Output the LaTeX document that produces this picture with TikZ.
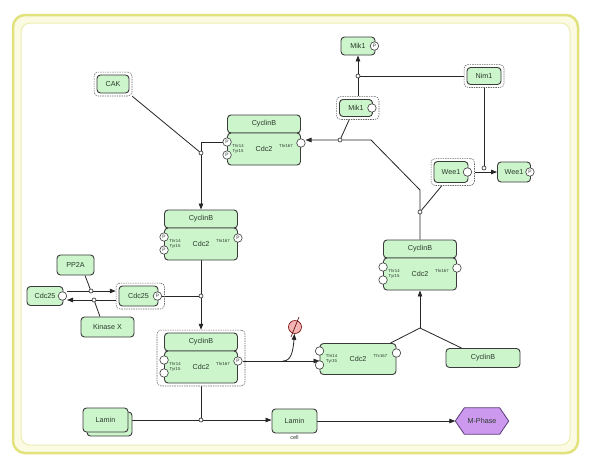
\documentclass[tikz,border=0pt]{standalone}
\usepackage{fontspec}
\setmainfont{Liberation Sans}
\usetikzlibrary{arrows.meta,calc,fit}
\pgfdeclarelayer{back}
\pgfdeclarelayer{bg}
\pgfsetlayers{back,bg,main}
\definecolor{spfill}{HTML}{CCF5CC}
\definecolor{spdraw}{HTML}{3A3A3A}
\definecolor{txt}{HTML}{2A3A2A}
\definecolor{frameY}{HTML}{E2E27C}
\definecolor{bandY}{HTML}{FBFBE4}
\definecolor{innerY}{HTML}{EDEDB0}
\definecolor{hexfill}{HTML}{CC99EE}
\definecolor{hexdraw}{HTML}{5A3A7A}
\definecolor{degfill}{HTML}{F4B4B4}
\newcommand\mkcplx[6]{%
  \node[cycb] (#1y) at (#2,{#3+9}) {CyclinB};
  \node[cdcb] (#1c) at (#2,{#3+34}) {Cdc2};
  \node[svar] (#1a) at ($(#1c.west)+(0,-7)$) {#4};
  \node[svar] (#1b) at ($(#1c.west)+(0,6)$) {#5};
  \node[svar] (#1r) at ($(#1c.east)+(0,-6)$) {#6};
  \node[smalllbl] (#1ta) at ($(#1c.west)+(11,-3)$) {Thr14};
  \node[smalllbl] (#1tb) at ($(#1c.west)+(11,2)$) {Tyr15};
  \node[smalllbl] (#1tc) at ($(#1c.east)+(-15,-3)$) {Thr167};
}
\begin{document}
\begin{tikzpicture}[x=1pt,y=-1pt,
  sp/.style={draw=spdraw, fill=spfill, line width=0.9pt, rounded corners=3.5pt, inner sep=0pt, text=txt, font=\fontsize{7.2}{8}\selectfont},
  cycb/.style={sp, minimum width=73pt, minimum height=18pt},
  cdcb/.style={sp, minimum width=73pt, minimum height=32pt},
  svar/.style={circle, draw=spdraw, fill=white, line width=0.6pt, inner sep=0pt, minimum size=8.5pt, font=\fontsize{4.8}{5}\selectfont, text=txt},
  smalllbl/.style={inner sep=0pt, text=txt, font=\fontsize{4.3}{4.8}\selectfont},
  dbox/.style={draw=black!60, dash pattern=on 1.4pt off 1pt, line width=0.6pt, rounded corners=4pt, inner sep=2.5pt},
  ln/.style={draw=black!85, line width=0.8pt},
  arr/.style={ln, -{Triangle[length=6pt,width=4.5pt]}},
  mp/.style={circle, draw=black!85, fill=white, line width=0.6pt, inner sep=0pt, minimum size=4pt}
]
\useasboundingbox (0,0) rectangle (589,467);
\begin{pgfonlayer}{back}
\fill[white] (0,0) rectangle (589,467);
\draw[frameY, line width=2.5pt, fill=bandY, rounded corners=12pt] (13,15) rectangle (578,453);
\draw[innerY, line width=1pt, fill=white, rounded corners=9pt] (21,23) rectangle (570,445);
\end{pgfonlayer}

% simple species
\node[sp, minimum width=34pt, minimum height=18pt] (mik1p) at (358,46) {Mik1\hspace{6pt}};
\node[svar] (mik1pR) at ($(mik1p.east)+(-1,0)$) {P};
\node[sp, minimum width=34pt, minimum height=17pt] (nim1) at (484,76) {Nim1};
\node[dbox, fit=(nim1)] (nim1D) {};
\node[sp, minimum width=33pt, minimum height=17pt] (mik1m) at (356,108) {Mik1\hspace{6pt}};
\node[svar] (mik1mR) at ($(mik1m.east)+(-1,0)$) {};
\node[dbox, fit=(mik1m)(mik1mR)] (mik1mD) {};
\node[sp, minimum width=32pt, minimum height=18pt] (cak) at (113,84) {CAK};
\node[dbox, fit=(cak)] (cakD) {};
\node[sp, minimum width=34pt, minimum height=21pt] (wee1m) at (451,172) {Wee1\hspace{6pt}};
\node[svar] (wee1mR) at ($(wee1m.east)+(-1,0)$) {};
\node[dbox, fit=(wee1m)(wee1mR)] (wee1mD) {};
\node[sp, minimum width=33pt, minimum height=20pt] (wee1p) at (514,172) {Wee1\hspace{6pt}};
\node[svar] (wee1pR) at ($(wee1p.east)+(-1,0)$) {P};
\node[sp, minimum width=37pt, minimum height=20pt] (pp2a) at (75.5,265) {PP2A};
\node[sp, minimum width=36pt, minimum height=19pt] (cdc25) at (45,296) {Cdc25\hspace{6pt}};
\node[svar] (cdc25R) at ($(cdc25.east)+(-1,0)$) {};
\node[sp, minimum width=39pt, minimum height=20pt] (cdc25p) at (138.5,296) {Cdc25\hspace{6pt}};
\node[svar] (cdc25pR) at ($(cdc25p.east)+(-1,0)$) {P};
\node[dbox, fit=(cdc25p)(cdc25pR)] (cdc25pD) {};
\node[sp, minimum width=53pt, minimum height=20pt] (kinx) at (107.5,327) {Kinase X};

% Lamin
\node[sp, minimum width=45pt, minimum height=24pt] (lamin1b) at (109.5,424) {};
\node[sp, minimum width=45pt, minimum height=24pt] (lamin1) at (105.5,420) {Lamin};
\node[sp, minimum width=45pt, minimum height=24pt] (lamin2) at (294.5,421) {Lamin};
\node[smalllbl, font=\fontsize{5.5}{6}\selectfont] (cell) at (294.5,438) {cell};
\node[inner sep=0pt, minimum width=53pt, minimum height=26pt, text=txt, font=\fontsize{7.2}{8}\selectfont] (mphase) at (482,421) {M-Phase};

% degradation
\node[circle, draw=red!45!black, fill=degfill, line width=0.6pt, minimum size=13pt, inner sep=0pt] (degr) at (295,327) {};
\draw[line width=0.6pt, red!30!black] ($(degr.center)+(-4,10)$) -- ($(degr.center)+(4,-10)$);

% complexes
\mkcplx{tc}{264}{115}{P}{P}{}
\mkcplx{cb}{201}{210}{P}{P}{P}
\mkcplx{cc}{201}{333}{}{}{P}
\node[dbox, fit=(ccy)(ccc)(cca)(ccb)(ccr)] (ccD) {};
\mkcplx{cd}{420}{240}{}{}{}

\node[sp, minimum width=76pt, minimum height=31pt] (cdcA) at (358,359) {Cdc2};
\node[svar] (cdcAa) at ($(cdcA.west)+(0,-8)$) {};
\node[svar] (cdcAb) at ($(cdcA.west)+(0,6)$) {};
\node[svar] (cdcAr) at ($(cdcA.east)+(0,-6)$) {};
\node[smalllbl] (cdcAta) at ($(cdcA.west)+(12,-3)$) {Thr14};
\node[smalllbl] (cdcAtb) at ($(cdcA.west)+(12,2)$) {Tyr15};
\node[smalllbl] (cdcAtc) at ($(cdcA.east)+(-16,-3)$) {Thr167};
\node[sp, minimum width=74pt, minimum height=19pt] (cycA) at (483,358) {CyclinB};

% modulation points
\node[mp] (mCak) at (201,153) {};
\node[mp] (mC25) at (201,296) {};
\node[mp] (mLam) at (201,420) {};
\node[mp] (mWee) at (420,212) {};
\node[mp] (mMik) at (340,140) {};
\node[mp] (mNim) at (358,76) {};
\node[mp] (mNim2) at (484,168) {};
\node[mp] (mPP) at (91,291) {};
\node[mp] (mKX) at (94,300) {};

\coordinate (dgx) at (283,0);
\coordinate (jn) at (420,328);
\coordinate (k1) at (420,190);
\coordinate (k2) at (371,140);

\begin{pgfonlayer}{bg}
\draw[draw=hexdraw, fill=hexfill, line width=0.8pt] (mphase.west) -- ($(mphase.north west)+(9,0)$) -- ($(mphase.north east)+(-9,0)$) -- (mphase.east) -- ($(mphase.south east)+(-9,0)$) -- ($(mphase.south west)+(9,0)$) -- cycle;
\draw[arr] (tca.west) -| (cby.north);
\draw[ln] (cakD.south east) -- (mCak);
\draw[arr] (cbc.south) -- (ccD.north);
\draw[ln] (cdc25pR.east) -- (mC25);
\draw[arr] (ccr.east) -- (ccr.east -| cdcA.west);
\draw[arr] (ccr.east -| dgx) .. controls (291,361) and (293,352) .. (degr);
\draw[ln] ($(cdcA.north east)+(-6,0)$) -- (jn);
\draw[ln] ($(cycA.north west)+(16,0)$) -- (jn);
\draw[arr] (jn) -- (cdc.south);
\draw[arr] (cdy.north) -- (k1) -- (k2) -- (k2 -| tcr.east);
\draw[ln] ($(wee1mD.south west)!0.25!(wee1mD.south east)$) -- (mWee);
\draw[ln] ($(mik1mD.south west)!0.3!(mik1mD.south east)$) -- (mMik);
\draw[arr] (mik1p.south |- mik1mD.north) -- (mik1p.south);
\draw[ln] (nim1D.west) -- (mNim);
\draw[arr] (wee1mD.east) -- (wee1p.west);
\draw[ln] (nim1D.south) -- (mNim2);
\draw[arr] ($(cdc25R.east)+(0,-5)$) -- ($(cdc25pD.west)+(0,-5)$);
\draw[arr] ($(cdc25pD.west)+(0,4)$) -- ($(cdc25R.east)+(0,4)$);
\draw[ln] ($(pp2a.south west)!0.75!(pp2a.south east)$) -- (mPP);
\draw[ln] ($(kinx.north west)!0.36!(kinx.north east)$) -- (mKX);
\draw[arr] (lamin1.east) -- (lamin1.east -| lamin2.west);
\draw[ln] (ccD.south) -- (mLam);
\draw[arr] (lamin2.east) -- (mphase.west);
\end{pgfonlayer}
\end{tikzpicture}
\end{document}
